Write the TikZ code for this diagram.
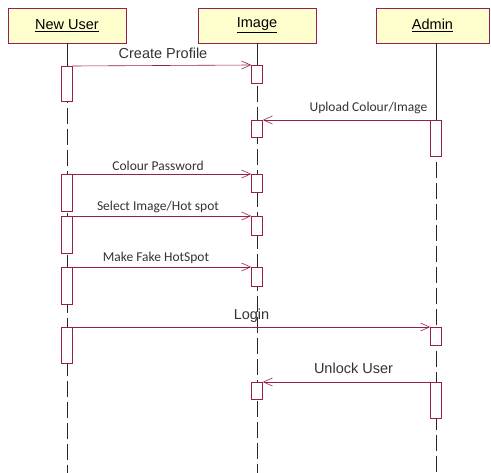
\documentclass[tikz,border=0pt]{standalone}
\usepackage{fontspec}
\setmainfont{Liberation Sans}
\newfontfamily\calfont{Carlito}
\usetikzlibrary{arrows.meta, positioning}
\definecolor{umlred}{RGB}{150,30,80}
\definecolor{umlfill}{RGB}{255,255,206}

\begin{document}
\begin{tikzpicture}[x=1pt, y=-1pt,
    objbox/.style={rectangle, draw=umlred, fill=umlfill, minimum width=118pt,
      minimum height=35pt, inner sep=0pt, font=\fontsize{14.5}{16}\selectfont},
    life/.style={black!85, dash pattern=on 16pt off 5pt},
    act/.style={rectangle, draw=umlred, fill=white, minimum width=11pt,
      minimum height=#1, inner sep=0pt, anchor=north},
    act/.default=18pt,
    msg/.style={-{Straight Barb[length=9pt, width=8pt, line width=0.6pt]}, umlred, line width=0.6pt},
    lbl/.style={font=\fontsize{14.5}{16}\selectfont, black!80, inner sep=1pt},
    clbl/.style={font=\calfont\fontsize{13.5}{15}\selectfont, black!80, inner sep=1pt}
  ]
    \useasboundingbox (0,0) rectangle (491,473);

    % objects
    \node[objbox] (user)  at (67,25.5)  {\underline{New User}};
    \node[objbox] (image) at (257,25.5) {\underline{Image}};
    \node[objbox, minimum width=113pt] (admin) at (432.5,25.5) {\underline{Admin}};

    % lifelines
    \coordinate (userend)  at (67,473);
    \coordinate (imageend) at (257,473);
    \coordinate (adminend) at (436,473);
    \draw[black!85] (user.south) -- (67,66);
    \draw[life] (67,66) -- (userend);
    \draw[black!85] (image.south) -- (257,65);
    \draw[life] (257,65) -- (imageend);
    \draw[black!85] (436,43) -- (436,120);
    \draw[life] (436,120) -- (adminend);

    % activations
    \node[act=35pt] (u1) at (67,66)  {};
    \node[act=37pt] (u2) at (67,174) {};
    \node[act=37pt] (u3) at (67,216) {};
    \node[act=37pt] (u4) at (67,267) {};
    \node[act=36pt] (u5) at (67,327) {};

    \node[act=18pt] (i1) at (257,65)  {};
    \node[act=17pt] (i2) at (257,120) {};
    \node[act=18pt] (i3) at (257,174) {};
    \node[act=19pt] (i4) at (257,216) {};
    \node[act=19pt] (i5) at (257,267) {};
    \node[act=17pt] (i6) at (257,382) {};

    \node[act=36pt] (a1) at (436,120) {};
    \node[act=18pt] (a2) at (436,327) {};
    \node[act=36pt] (a3) at (436,382) {};

    % messages
    \draw[msg] (u1.north east) -- node[lbl, above=6pt, xshift=1pt] {Create Profile} (i1.north west);
    \draw[msg] (a1.north west) -- node[clbl, above=5pt, xshift=22pt] {Upload Colour/Image} (i2.north east);
    \draw[msg] (u2.north east) -- node[clbl, above=2pt, xshift=-4pt] {Colour Password} (i3.north west);
    \draw[msg] (u3.north east) -- node[clbl, above=2pt, xshift=-4pt] {Select Image/Hot spot} (i4.north west);
    \draw[msg] (u4.north east) -- node[clbl, above=2pt, xshift=-6pt] {Make Fake HotSpot} (i5.north west);
    \draw[msg] (u5.north east) -- node[lbl, above=3pt] {Login} (a2.north west);
    \draw[msg] (a3.north west) -- node[lbl, above=7pt, xshift=7pt] {Unlock User} (i6.north east);
  \end{tikzpicture}
\end{document}
